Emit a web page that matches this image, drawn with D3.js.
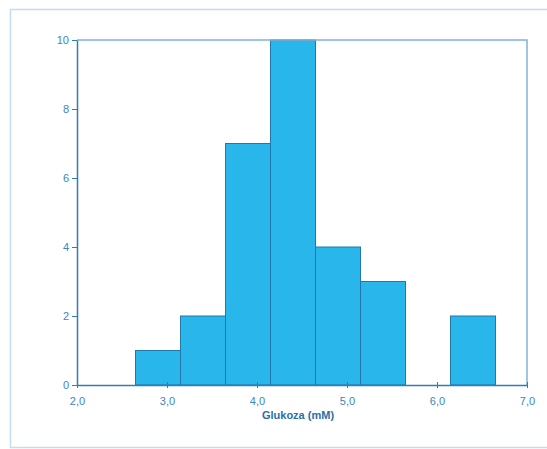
<!DOCTYPE html>
<html>
<head>
<meta charset="utf-8">
<script src="https://cdn.jsdelivr.net/npm/d3@7"></script>
<style>
  body { margin: 0; background: #fff; }
  svg { display: block; font-family: "Liberation Sans", Arial, sans-serif; }
</style>
</head>
<body>
<div id="chart"></div>
<script>
// histogram bins (mM) and counts
const binStarts = [2.65, 3.15, 3.65, 4.15, 4.65, 5.15, 5.65, 6.15];
const binWidth = 0.5;
const counts = [1, 2, 7, 10, 4, 3, 0, 2];
const xTicks = [2, 3, 4, 5, 6, 7];
const yTicks = [0, 2, 4, 6, 8, 10];

const W = 547, H = 449;
const margin = { top: 40, right: 20, bottom: 64, left: 77 };
const width = W - margin.left - margin.right;
const height = H - margin.top - margin.bottom;

const axisColor = "#2d7db8";
const textColor = "#3a86c0";

const svg = d3.select("#chart").append("svg")
  .attr("width", W)
  .attr("height", H);

// outer frame
svg.append("rect")
  .attr("x", 10.5).attr("y", 9.5)
  .attr("width", W).attr("height", H - 11)
  .attr("fill", "none")
  .attr("stroke", "#c4dced")
  .attr("stroke-width", 1.5);

const g = svg.append("g")
  .attr("transform", `translate(${margin.left},${margin.top})`);

const x = d3.scaleLinear().domain([2, 7]).range([0, width]);
const y = d3.scaleLinear().domain([0, 10]).range([height, 0]);

const data = binStarts.map((s, i) => ({ x0: s, x1: s + binWidth, n: counts[i] }));

g.selectAll(".bar")
  .data(data.filter(d => d.n > 0))
  .enter()
  .append("rect")
  .attr("class", "bar")
  .attr("x", d => x(d.x0))
  .attr("y", d => y(d.n))
  .attr("width", d => x(d.x1) - x(d.x0))
  .attr("height", d => y(0) - y(d.n))
  .attr("fill", "#29b6ea")
  .attr("stroke", "#2278ad")
  .attr("stroke-width", 1);

// box top and right
g.append("path")
  .attr("d", `M0,0H${width}V${height}`)
  .attr("fill", "none")
  .attr("stroke", "#7fb2d8")
  .attr("stroke-width", 1.5);

const xAxis = g.append("g")
  .attr("transform", `translate(0,${height})`)
  .call(d3.axisBottom(x).tickValues(xTicks).tickSize(5).tickSizeOuter(0)
    .tickFormat(d => d3.format(".1f")(d).replace(".", ",")));

const yAxis = g.append("g")
  .call(d3.axisLeft(y).tickValues(yTicks).tickSize(5).tickSizeOuter(0));

[xAxis, yAxis].forEach(a => {
  a.select(".domain").attr("stroke", axisColor).attr("stroke-width", 1.5);
  a.selectAll(".tick line").attr("stroke", axisColor);
  a.selectAll("text")
    .attr("fill", textColor)
    .style("font-size", "11px")
    .style("font-family", "Liberation Sans, Arial, sans-serif");
});
xAxis.selectAll(".tick line").attr("y1", -3).attr("y2", 3);
xAxis.selectAll("text").attr("dy", "1.1em");

g.append("text")
  .attr("x", width / 2 - 4)
  .attr("y", height + 34)
  .attr("text-anchor", "middle")
  .attr("fill", "#2a6fa8")
  .style("font-size", "11px")
  .style("font-weight", "bold")
  .text("Glukoza (mM)");
</script>
</body>
</html>
